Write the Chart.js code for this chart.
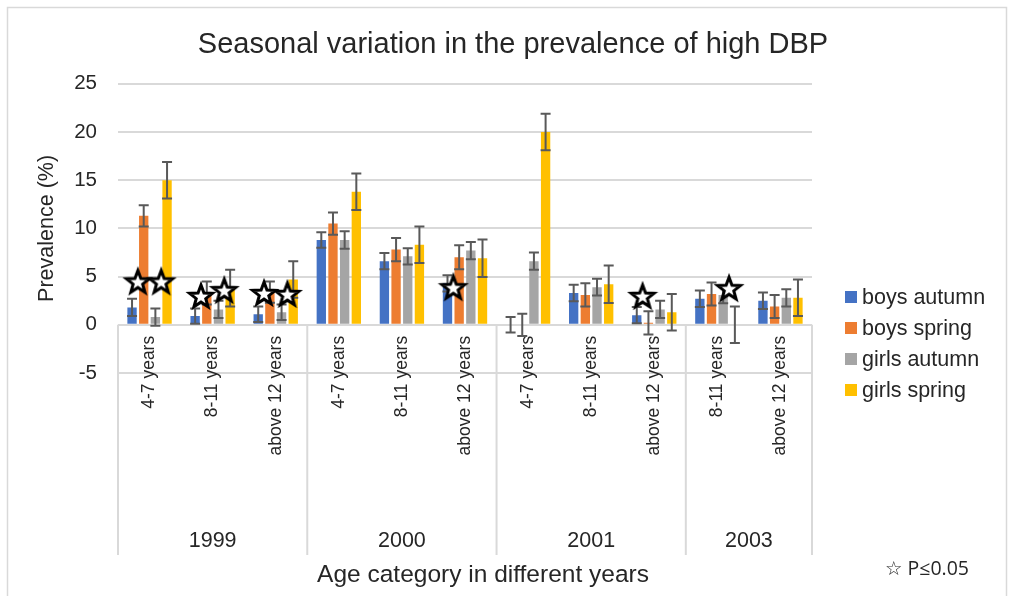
<!DOCTYPE html>
<html>
<head>
<meta charset="utf-8">
<title>Seasonal variation in the prevalence of high DBP</title>
<script src="https://cdn.jsdelivr.net/npm/chart.js@4.4.1/dist/chart.umd.min.js"></script>
<style>
  html, body { margin: 0; padding: 0; background: #ffffff; }
  #wrap { width: 1013px; height: 596px; }
</style>
</head>
<body>
<div id="wrap"><canvas id="chart" width="1013" height="596"></canvas></div>
<script>
// Age groups along the category axis, grouped by survey year
const ageLabels = ['4-7 years', '8-11 years', 'above 12 years',
                   '4-7 years', '8-11 years', 'above 12 years',
                   '4-7 years', '8-11 years', 'above 12 years',
                   '8-11 years', 'above 12 years'];
const yearLabels = ['1999', '2000', '2001', '2003'];
const yearGroupSizes = [3, 3, 3, 2];

// Prevalence of high DBP (%) and error margins per series
const boysAutumn     = [1.8, 0.9, 1.1, 8.8, 6.6, 4.3, 0.0, 3.3, 1.0, 2.7, 2.5];
const boysAutumnErr  = [0.9, 0.8, 0.8, 0.8, 0.85, 0.85, 0.8, 0.85, 0.85, 0.85, 0.85];
const boysSpring     = [11.3, 3.3, 3.4, 10.5, 7.8, 7.0, 0.0, 3.1, 0.2, 3.2, 1.9];
const boysSpringErr  = [1.1, 1.2, 1.1, 1.15, 1.2, 1.25, 1.15, 1.2, 1.2, 1.2, 1.2];
const girlsAutumn    = [0.8, 1.6, 1.3, 8.8, 7.1, 7.7, 6.6, 3.9, 1.6, 3.1, 2.8];
const girlsAutumnErr = [0.9, 0.9, 0.8, 0.9, 0.85, 0.9, 0.9, 0.87, 0.9, 0.87, 0.9];
const girlsSpring    = [15.0, 3.8, 4.7, 13.8, 8.3, 6.9, 20.0, 4.2, 1.3, 0.0, 2.8];
const girlsSpringErr = [1.9, 1.9, 1.9, 1.9, 1.9, 1.95, 1.9, 1.95, 1.9, 1.9, 1.9];

// Significant seasonal differences (P<=0.05): category, sex pair, marker height
const starCategory = [0, 0, 1, 1, 2, 2, 5, 8, 9];
const starPair     = ['boys', 'girls', 'boys', 'girls', 'boys', 'girls', 'boys', 'boys', 'girls'];
const starValue    = [4.5, 4.5, 3.0, 3.6, 3.3, 3.2, 3.9, 3.0, 3.8];

// Value axis range
const yMin = -5, yMax = 25, yStep = 5;

const FONT = "'Liberation Sans', Arial, sans-serif";
const TEXT = '#262626';
const GRID = '#d9d9d9';

Chart.defaults.font.family = FONT;
Chart.defaults.color = TEXT;

// Outlined five-point star used as the significance marker
function makeStar(R, r, lw) {
  const size = Math.ceil(2 * R + 2 * lw + 2);
  const c = document.createElement('canvas');
  c.width = size; c.height = size;
  const g = c.getContext('2d');
  const cx = size / 2, cy = size / 2 + R * 0.095;
  g.beginPath();
  for (let k = 0; k < 10; k++) {
    const rad = k % 2 ? r : R;
    const a = -Math.PI / 2 + k * Math.PI / 5;
    g.lineTo(cx + rad * Math.cos(a), cy + rad * Math.sin(a));
  }
  g.closePath();
  g.fillStyle = '#ffffff';
  g.fill();
  g.lineWidth = lw;
  g.lineJoin = 'miter';
  g.strokeStyle = '#000000';
  g.stroke();
  return c;
}
const starImage = makeStar(12, 5, 3);

// Which two series (autumn, spring) each marker sits between
const pairSeries = { boys: [0, 1], girls: [2, 3] };

function barSet(label, data, errors, color) {
  return {
    label, data, errors,
    backgroundColor: color, borderWidth: 0,
    categoryPercentage: 0.74, barPercentage: 0.8
  };
}

// Error bars, significance stars, year bands, axis caption, legend and footnote
const decor = {
  id: 'decor',
  beforeDraw(chart) {
    const ctx = chart.ctx;
    ctx.save();
    ctx.fillStyle = '#ffffff';
    ctx.fillRect(0, 0, chart.width, chart.height);
    ctx.strokeStyle = GRID;
    ctx.lineWidth = 1.5;
    ctx.strokeRect(7.5, 7.5, 999, 620);
    ctx.restore();
  },
  afterDatasetDraw(chart, args) {
    const ds = chart.data.datasets[args.index];
    if (!ds.errors) return;
    const ctx = chart.ctx, y = chart.scales.y;
    ctx.save();
    ctx.strokeStyle = '#595959';
    ctx.lineWidth = 2;
    args.meta.data.forEach((bar, i) => {
      const v = ds.data[i], e = ds.errors[i];
      const top = y.getPixelForValue(v + e), bot = y.getPixelForValue(v - e);
      ctx.beginPath();
      ctx.moveTo(bar.x, top); ctx.lineTo(bar.x, bot);
      ctx.moveTo(bar.x - 5, top); ctx.lineTo(bar.x + 5, top);
      ctx.moveTo(bar.x - 5, bot); ctx.lineTo(bar.x + 5, bot);
      ctx.stroke();
    });
    ctx.restore();
  },
  afterDatasetsDraw(chart) {
    const ctx = chart.ctx, y = chart.scales.y;
    starCategory.forEach((c, i) => {
      const [a, b] = pairSeries[starPair[i]];
      const xa = chart.getDatasetMeta(a).data[c].x;
      const xb = chart.getDatasetMeta(b).data[c].x;
      const px = (xa + xb) / 2;
      const py = y.getPixelForValue(starValue[i]);
      ctx.drawImage(starImage, px - starImage.width / 2, py - starImage.height / 2);
    });
  },
  afterDraw(chart) {
    const ctx = chart.ctx, x = chart.scales.x, y = chart.scales.y;
    const area = chart.chartArea;
    const zeroY = y.getPixelForValue(0);
    const half = (x.getPixelForValue(1) - x.getPixelForValue(0)) / 2;
    ctx.save();
    // year separators and year labels
    ctx.strokeStyle = GRID;
    ctx.lineWidth = 2;
    ctx.fillStyle = TEXT;
    ctx.font = '21.5px ' + FONT;
    ctx.textAlign = 'center';
    ctx.textBaseline = 'middle';
    let start = 0;
    const edges = [area.left];
    yearGroupSizes.forEach((n, k) => {
      const l = x.getPixelForValue(start) - half;
      const r = x.getPixelForValue(start + n - 1) + half;
      edges.push(r);
      ctx.fillText(yearLabels[k], (l + r) / 2, 541);
      start += n;
    });
    edges.forEach(px => {
      ctx.beginPath();
      ctx.moveTo(px, zeroY);
      ctx.lineTo(px, 555);
      ctx.stroke();
    });
    // category axis caption
    ctx.font = '24.5px ' + FONT;
    ctx.fillText('Age category in different years', 483, 575);
    // legend
    ctx.textAlign = 'left';
    ctx.font = '21.5px ' + FONT;
    chart.data.datasets.forEach((d, i) => {
      const cy = 297 + 31 * i;
      ctx.fillStyle = d.backgroundColor;
      ctx.fillRect(845, cy - 6, 12, 12);
      ctx.fillStyle = TEXT;
      ctx.fillText(d.label, 862, cy + 1);
    });
    // significance footnote
    ctx.font = "19.5px 'Open Sans', 'DejaVu Sans', sans-serif";
    ctx.fillText('\u2606 P\u22640.05', 885, 569);
    ctx.restore();
  }
};

new Chart(document.getElementById('chart'), {
  type: 'bar',
  data: {
    labels: ageLabels,
    datasets: [
      barSet('boys autumn', boysAutumn, boysAutumnErr, '#4472C4'),
      barSet('boys spring', boysSpring, boysSpringErr, '#ED7D31'),
      barSet('girls autumn', girlsAutumn, girlsAutumnErr, '#A5A5A5'),
      barSet('girls spring', girlsSpring, girlsSpringErr, '#FFC000')
    ]
  },
  options: {
    responsive: false,
    animation: false,
    events: [],
    layout: { padding: { left: 13, right: 0, top: 0, bottom: 223 } },
    plugins: {
      legend: { display: false },
      tooltip: { enabled: false },
      title: {
        display: true,
        text: 'Seasonal variation in the prevalence of high DBP',
        color: TEXT,
        font: { size: 29, weight: 'normal' },
        padding: { top: 28, bottom: 21 }
      }
    },
    scales: {
      x: {
        type: 'category',
        position: { y: 0 },
        offset: true,
        grid: { display: false },
        border: { display: false },
        ticks: {
          autoSkip: false, minRotation: 90, maxRotation: 90,
          padding: 3, color: TEXT, font: { size: 17.5 }
        }
      },
      y: {
        min: yMin, max: yMax,
        ticks: { stepSize: yStep, padding: 21, color: TEXT, font: { size: 20.5 } },
        grid: { color: GRID, lineWidth: 2, drawTicks: false },
        border: { display: false },
        title: {
          display: true, text: 'Prevalence (%)', color: TEXT,
          font: { size: 21.5 }, padding: { top: 21, bottom: 0 }
        },
        afterFit(scale) { scale.width = 105; }
      },
      legendSpace: {
        type: 'linear', position: 'right', display: true,
        grid: { display: false }, ticks: { display: false }, border: { display: false },
        afterFit(scale) { scale.width = 201; }
      }
    }
  },
  plugins: [decor]
});
</script>
</body>
</html>
